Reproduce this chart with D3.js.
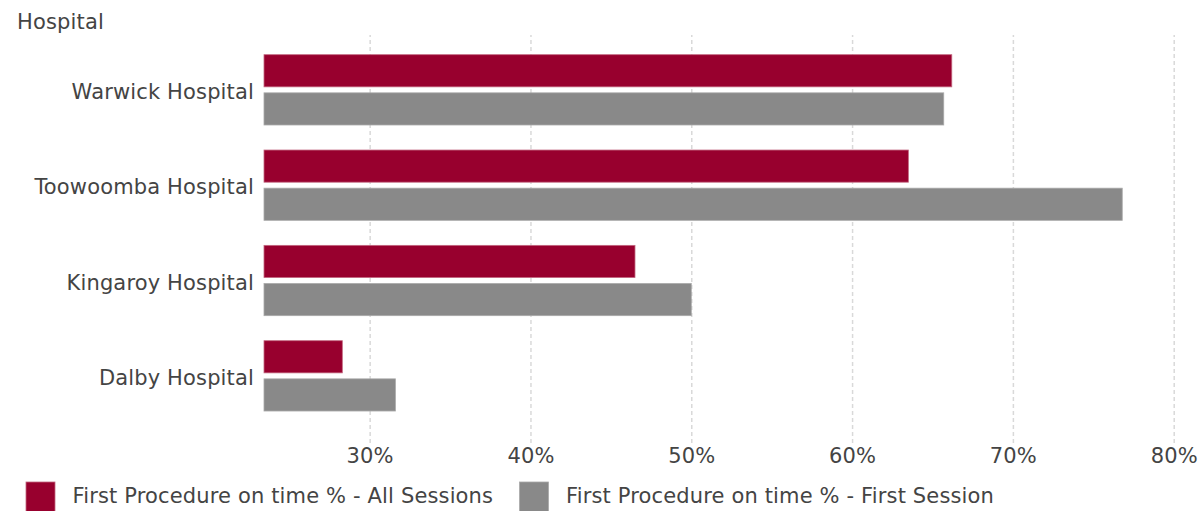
<!DOCTYPE html>
<html>
<head>
<meta charset="utf-8">
<script src="https://cdn.jsdelivr.net/npm/d3@7"></script>
<style>
  html, body { margin: 0; padding: 0; background: #fff; }
  svg { display: block; }
  text { font-family: "DejaVu Sans", Verdana, sans-serif; fill: #444; letter-spacing: 0.15px; }
</style>
</head>
<body>
<svg id="chart" width="1201" height="511"></svg>
<script>
const categories = ["Warwick Hospital", "Toowoomba Hospital", "Kingaroy Hospital", "Dalby Hospital"];
const seriesNames = ["First Procedure on time % - All Sessions", "First Procedure on time % - First Session"];
const allSessions = [66.2, 63.5, 46.5, 28.3];
const firstSession = [65.7, 76.8, 50.0, 31.6];
const tickValues = [30, 40, 50, 60, 70, 80];
const axisTitle = "Hospital";
const colors = ["#98002e", "#898989"];
const strokes = ["#c2667f", "#a9a9a9"];

const svg = d3.select("#chart");
const fontSize = 21;

const x = d3.scaleLinear().domain([23.43, 80]).range([264, 1173.7]);
const y = d3.scaleBand().domain(categories).range([42.2, 423.5]).paddingInner(0.2626).paddingOuter(0.131);
const ySub = d3.scaleBand().domain(seriesNames).range([0, y.bandwidth()]).paddingInner(0.157);

const gridTop = 35, gridBottom = 443;

// gridlines + tick labels
const axis = d3.axisBottom(x).tickValues(tickValues).tickFormat(d => d + "%")
  .tickSize(-(gridBottom - gridTop)).tickPadding(5);
const gx = svg.append("g").attr("transform", `translate(0,${gridBottom})`).call(axis);
gx.select(".domain").remove();
gx.selectAll(".tick line").attr("stroke", "#d9d9d9").attr("stroke-width", 1.5).attr("stroke-dasharray", "4,3");
gx.selectAll(".tick text").attr("font-size", fontSize).attr("font-family", null).style("fill", "#444");

// title
svg.append("text").attr("x", 17).attr("y", 28.5).attr("font-size", fontSize).text(axisTitle);

// category labels
svg.append("g").selectAll("text").data(categories).join("text")
  .attr("x", 254).attr("y", d => y(d) + y.bandwidth() / 2 + 9)
  .attr("text-anchor", "end").attr("font-size", fontSize).text(d => d);

// bars
const rows = categories.map((c, i) => ({ cat: c, vals: [allSessions[i], firstSession[i]] }));
const groups = svg.append("g").selectAll("g").data(rows).join("g")
  .attr("transform", d => `translate(0,${y(d.cat)})`);
groups.selectAll("rect").data(d => d.vals.map((v, j) => ({ v, j }))).join("rect")
  .attr("x", x(x.domain()[0]))
  .attr("y", d => ySub(seriesNames[d.j]))
  .attr("width", d => x(d.v) - x(x.domain()[0]))
  .attr("height", ySub.bandwidth())
  .attr("fill", d => colors[d.j])
  .attr("stroke", d => strokes[d.j])
  .attr("stroke-width", 0.8);

// legend
const legendX = [26, 519.5];
const lg = svg.append("g").selectAll("g").data(seriesNames).join("g")
  .attr("transform", (d, i) => `translate(${legendX[i]},482)`);
lg.append("rect").attr("width", 29).attr("height", 30)
  .attr("fill", (d, i) => colors[i]).attr("stroke", (d, i) => strokes[i]).attr("stroke-width", 0.8);
lg.append("text").attr("x", 46.5).attr("y", 21).attr("font-size", fontSize).text(d => d);
</script>
</body>
</html>
